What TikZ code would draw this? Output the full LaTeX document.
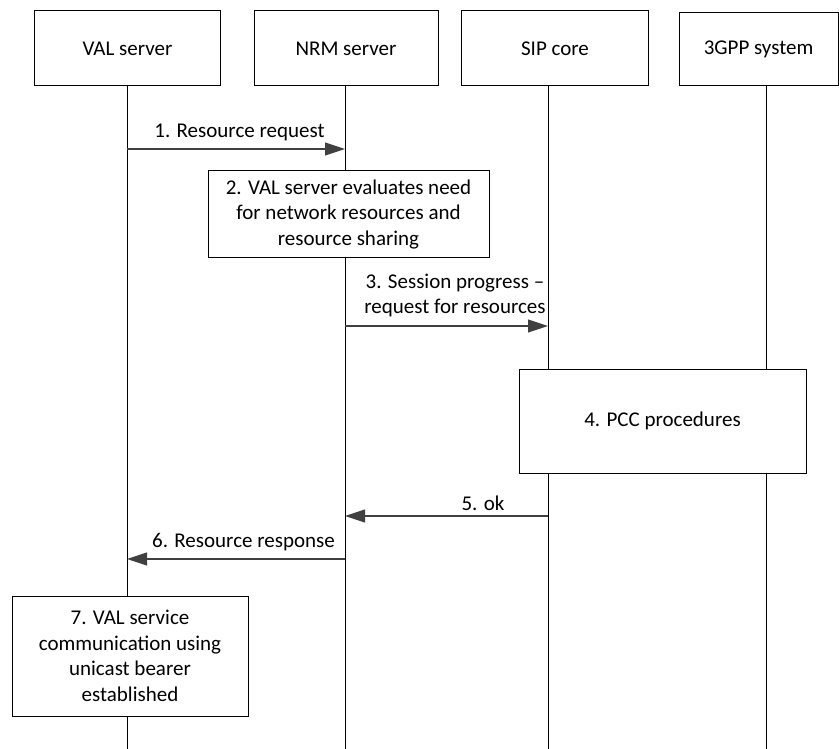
\documentclass[tikz,border=0pt]{standalone}
\usepackage{fontspec}
\setmainfont{Carlito}
\usetikzlibrary{arrows.meta}
\definecolor{arrowgray}{HTML}{404040}
\begin{document}
\begin{tikzpicture}[x=1pt,y=-1pt,
  txt/.style={font=\fontsize{21}{25.5}\selectfont},
  hdr/.style={txt, draw, line width=1pt, inner sep=0pt, minimum height=75pt},
  life/.style={line width=1pt},
  msg/.style={draw=arrowgray, line width=1.2pt, -{Triangle[length=20pt,width=13pt]}},
  lbl/.style={txt, inner sep=0pt, align=center},
  procbox/.style={txt, draw, line width=1pt, fill=white, align=center, inner sep=0pt}]
\useasboundingbox (0,0) rectangle (839,749);

% headers
\node[hdr, minimum width=186pt] (val) at (127.5,48.5) {VAL server};
\node[hdr, minimum width=184pt] (nrm) at (346,48.5) {NRM server};
\node[hdr, minimum width=187pt] (sip) at (555,48.5) {SIP core};
\node[hdr, minimum width=159pt, minimum height=73pt] (gpp) at (758.5,49.5) {3GPP system};

% lifeline ends
\coordinate (Lv) at (127,749);
\coordinate (Ln) at (345,749);
\coordinate (Ls) at (548,749);
\coordinate (Lg) at (766,749);
\draw[life] (val.south -| Lv) -- (Lv);
\draw[life] (nrm.south -| Ln) -- (Ln);
\draw[life] (sip.south -| Ls) -- (Ls);
\draw[life] (gpp.south -| Lg) -- (Lg);

% message 1
\coordinate (m1) at (127,149);
\draw[msg] (m1) -- (m1 -| Ln);
\node[lbl] (l1) at (239.5,132) {1. Resource request};

% box 2
\node[procbox, minimum width=281pt, minimum height=87pt] (b2) at (348.5,214.5)
  {2. VAL server evaluates need\\for network resources and\\resource sharing};

% message 3
\coordinate (m3) at (345,326);
\draw[msg] (m3) -- (m3 -| Ls);
\node[lbl] (l3) at (455,295.5) {3. Session progress --\\request for resources};

% box 4
\node[procbox, minimum width=287pt, minimum height=104pt] (b4) at (662.5,421) {4. PCC procedures};

% message 5
\coordinate (m5) at (548,516);
\draw[msg] (m5) -- (m5 -| Ln);
\node[lbl] (l5) at (483,503) {5. ok};

% message 6
\coordinate (m6) at (345,559);
\draw[msg] (m6) -- (m6 -| Lv);
\node[lbl] (l6) at (243.5,542) {6. Resource response};

% box 7
\node[procbox, minimum width=236pt, minimum height=120pt] (b7) at (130,656)
  {7. VAL service\\communication using\\unicast bearer\\established};
\end{tikzpicture}
\end{document}
